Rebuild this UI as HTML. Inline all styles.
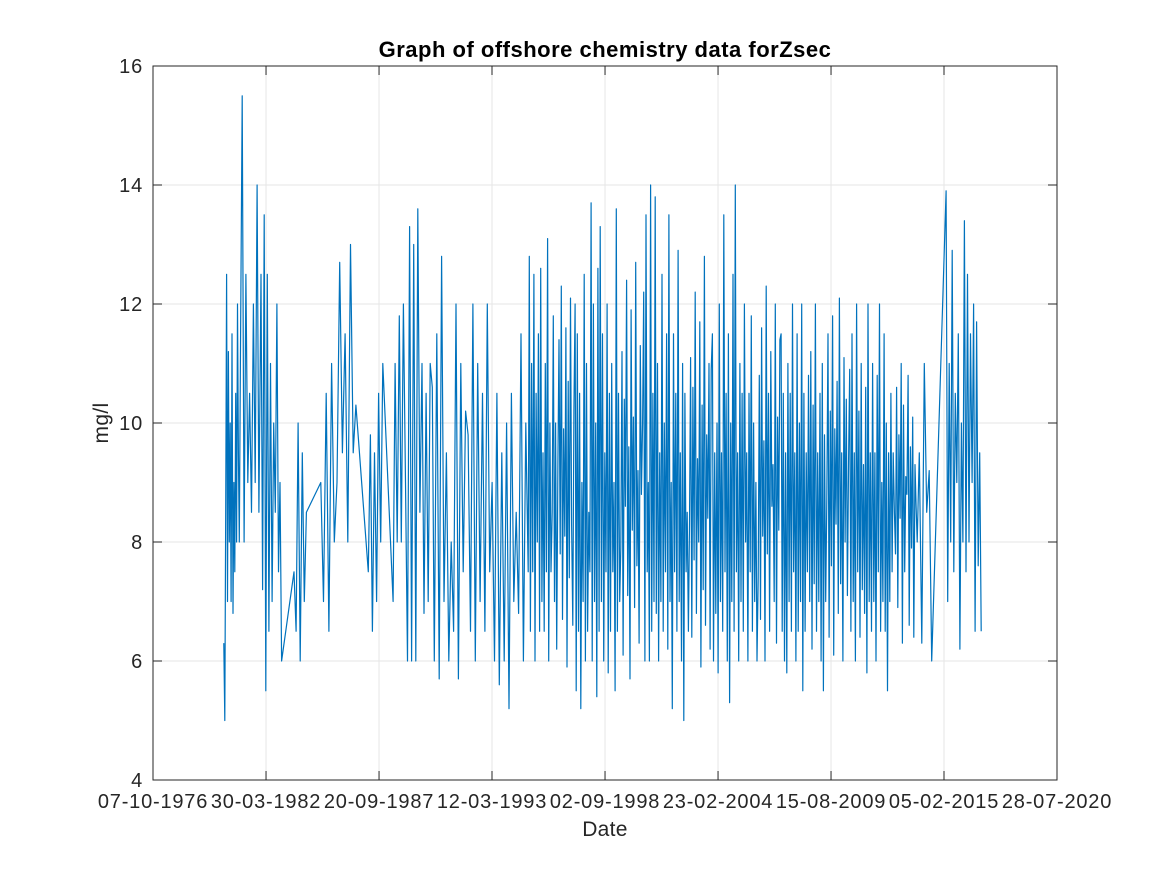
<!DOCTYPE html>
<html><head><meta charset="utf-8"><style>
body{margin:0;background:#fff;}
svg{display:block;font-family:"Liberation Sans",Helvetica,Arial,sans-serif;}
</style></head><body>
<svg id="chart" width="1167" height="875" viewBox="0 0 1167 875" xmlns="http://www.w3.org/2000/svg">
<rect width="1167" height="875" fill="#fff"/>
<g id="grid"></g>
<path id="series" fill="none" stroke="#0072bd" stroke-width="1.2" stroke-linejoin="round"></path>
<rect x="153" y="66" width="904" height="714" fill="none" stroke="#262626" stroke-width="1"/>
<g id="ticks"></g>
<text x="605" y="57" text-anchor="middle" font-size="22" letter-spacing="0.5" font-weight="bold" fill="#000">Graph of offshore chemistry data forZsec</text>
<text x="605" y="836" text-anchor="middle" font-size="21" letter-spacing="0.3" fill="#262626">Date</text>
<text transform="translate(108,423) rotate(-90)" text-anchor="middle" font-size="21" letter-spacing="0.3" fill="#262626">mg/l</text>
</svg>
<script>
const xTickLabels=["07-10-1976","30-03-1982","20-09-1987","12-03-1993","02-09-1998","23-02-2004","15-08-2009","05-02-2015","28-07-2020"];
const xTickYears=[1976.767,1982.244,1987.72,1993.194,1998.671,2004.147,2009.622,2015.097,2020.572];
const yTicks=[4,6,8,10,12,14,16];
const segStart=[1980.2,1981.0,1982.0,1983.6,1984.9,1987.2,1988.4,1990.4,1995.0,2013.9,2015.2];
const segEnd=[1980.95,1981.9,1983.0,1984.2,1986.6,1987.9,1990.3,1994.95,2013.8,2014.5,2016.9];
const segValues=[
[6.3,5.0,8.5,12.5,7.0,11.2,8.0,10.0,7.0,11.5,6.8,9.0,7.5,10.5,8.0,12.0,9.5,8.0],
[11.0,15.5,8.0,12.5,9.0,10.5,8.5,12.0,9.0,14.0,8.5],
[12.5,7.2,13.5,5.5,12.5,6.5,11.0,7.0,10.0,8.5,12.0,7.5,9.0,6.0],
[7.5,6.5,10.0,6.0,9.5,7.0,8.5],
[9.0,7.0,10.5,6.5,11.0,8.0,9.0,12.7,9.5,11.5,8.0,13.0,9.5,10.3],
[7.5,9.8,6.5,9.5,7.0,10.5,8.0,11.0],
[7.0,11.0,8.0,11.8,8.0,12.0,9.0,6.0,13.3,6.0,13.0,6.0,13.6,8.5,11.0,6.8,10.5,7.0,11.0,10.6],
[6.0,11.5,5.7,12.8,7.0,9.5,6.0,8.0,6.5,12.0,5.7,11.0,7.5,10.2,9.8,6.5,12.0,6.0,11.0,7.0,10.5,6.5,12.0,7.5,9.0,6.0,10.5,5.6,9.5,6.0,10.0,5.2,10.5,7.0,8.5,6.8,11.5,6.0,10.0,7.5],
[12.8,6.5,11.0,7.5,12.5,6.0,10.5,8.0,11.5,6.5,12.6,7.0,9.5,6.5,11.0,7.5,13.1,6.0,10.0,7.5,
8.5,11.8,7.0,10.0,6.2,9.3,11.4,7.8,12.3,6.7,9.9,8.1,11.6,5.9,10.7,7.4,12.1,8.3,6.6,10.2,
12.0,5.5,11.5,6.5,10.5,5.2,9.0,7.0,12.5,6.0,11.0,6.5,8.5,7.5,13.7,6.0,12.0,7.0,10.0,5.4,
12.6,6.5,13.3,7.0,11.5,6.0,9.5,7.5,12.0,5.8,10.5,6.5,11.0,7.5,9.0,5.5,13.6,6.5,10.5,7.0,
7.9,11.2,6.1,10.4,8.6,12.4,7.1,9.6,5.7,11.9,8.2,10.1,6.9,12.7,7.6,9.2,6.3,11.3,8.8,10.0,
12.2,6.0,13.5,7.5,9.0,6.0,14.0,6.5,10.5,7.0,13.8,6.8,11.0,6.0,9.5,7.0,12.5,6.5,10.0,7.5,
11.5,6.2,13.5,7.0,9.0,5.2,11.5,7.5,10.5,6.5,12.9,7.0,9.5,6.0,11.0,5.0,10.5,7.5,8.5,6.5,
8.3,11.1,6.4,10.6,7.7,12.2,6.8,9.4,8.0,11.7,5.9,10.3,7.2,12.8,6.6,9.8,8.4,11.0,6.2,10.9,
11.5,6.0,9.5,6.8,10.0,5.8,12.0,7.0,9.5,6.5,13.5,7.5,10.5,6.0,11.5,5.3,10.0,7.0,12.5,6.5,
14.0,7.5,9.5,6.0,11.0,7.0,10.5,6.5,12.0,8.0,9.5,6.0,10.5,7.5,11.8,6.5,10.0,7.0,9.0,6.0,
7.4,10.8,6.7,11.6,8.1,9.7,6.0,12.3,7.8,10.5,6.5,11.2,8.6,9.3,7.0,12.0,6.3,10.1,8.2,11.4,
11.5,6.5,10.5,6.0,9.5,5.8,11.0,7.0,10.5,6.5,12.0,7.5,9.5,6.0,11.5,6.5,10.0,7.0,12.0,5.5,
10.5,6.5,9.5,7.5,10.8,7.0,11.2,6.2,10.3,7.3,12.0,6.5,9.5,7.0,10.5,6.0,11.0,5.5,9.8,7.0,
8.7,11.5,6.4,10.2,7.6,11.8,6.1,9.9,8.3,10.7,6.8,12.1,7.3,9.5,6.0,11.1,8.0,10.4,7.1,9.4,
10.9,6.5,11.5,7.0,9.5,6.0,12.0,7.5,10.2,6.4,11.0,7.2,9.3,6.8,10.6,5.8,12.0,7.0,9.5,6.5,
11.0,7.0,9.5,6.0,10.8,7.5,12.0,6.5,9.0,7.0,11.5,6.5,10.0,5.5,9.5,7.0,10.5,7.5,9.5,8.5,
7.8,10.6,6.9,9.8,8.4,11.0,6.3,10.3,7.5,9.1,8.8,10.8,6.6,9.6,7.9,10.1,6.4,9.3,8.6,8.0],
[9.5,6.3,11.0,8.5,9.2,6.0],
[13.9,7.0,11.0,8.0,12.9,7.5,10.5,9.0,11.5,6.2,10.0,8.0,13.4,7.5,12.5,8.0,11.5,9.0,12.0,6.5,11.7,7.6,9.5,6.5]
];
const x0=1976.767,x1=2020.572,L=153,R=1057,T=66,B=780;
function xs(v){return L+(v-x0)/(x1-x0)*(R-L);}
function ys(v){return B-(v-4)/12*(B-T);}
const NS="http://www.w3.org/2000/svg";
const grid=document.getElementById('grid'),ticks=document.getElementById('ticks');
function ln(g,a,b,c,d,col,name){const e=document.createElementNS(NS,'line');
e.setAttribute('x1',a);e.setAttribute('y1',b);e.setAttribute('x2',c);e.setAttribute('y2',d);e.setAttribute('stroke',col);e.setAttribute('stroke-width','1');


g.appendChild(e);}
function tx(g,x,y,s,anchor,name){const e=document.createElementNS(NS,'text');
e.setAttribute('x',x);e.setAttribute('y',y);e.setAttribute('text-anchor',anchor);e.setAttribute('font-size','20');e.setAttribute('letter-spacing','0.8');e.setAttribute('fill','#262626');e.textContent=s;


g.appendChild(e);}
xTickYears.forEach((v,i)=>{const x=xs(v);
ln(grid,x,T,x,B,'#e6e6e6','x-grid-line');
ln(ticks,x,B,x,B-9,'#262626','x-tick');ln(ticks,x,T,x,T+9,'#262626','x-tick');
tx(ticks,x,808,xTickLabels[i],'middle','x-tick-label');});
yTicks.forEach(v=>{const y=ys(v);
ln(grid,L,y,R,y,'#e6e6e6','y-grid-line');
ln(ticks,L,y,L+9,y,'#262626','y-tick');ln(ticks,R,y,R-9,y,'#262626','y-tick');
tx(ticks,L-10,y+7,String(v),'end','y-tick-label');});
let d='';
segValues.forEach((vals,s)=>{const n=vals.length;
vals.forEach((v,i)=>{const yr=segStart[s]+(n>1?i/(n-1):0)*(segEnd[s]-segStart[s]);
d+=(d?'L':'M')+xs(yr).toFixed(1)+','+ys(v).toFixed(1);});});
document.getElementById('series').setAttribute('d',d);
</script>
</body></html>
